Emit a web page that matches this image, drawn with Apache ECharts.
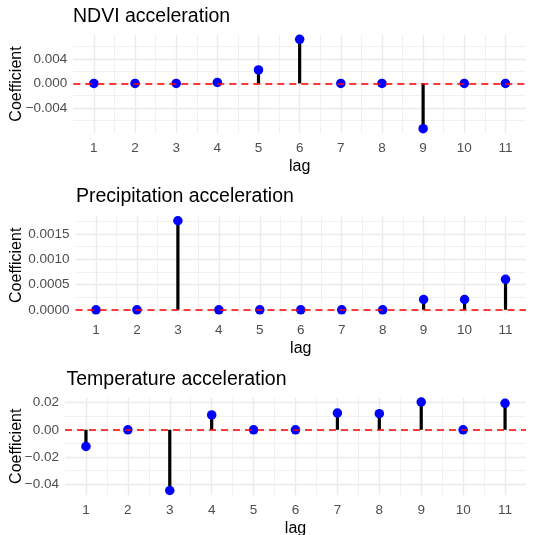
<!DOCTYPE html>
<html>
<head>
<meta charset="utf-8">
<script src="https://cdn.jsdelivr.net/npm/echarts@6/dist/echarts.min.js"></script>
<style>html,body{margin:0;padding:0;background:#fff}#c{width:533px;height:535px}</style>
</head>
<body>
<div id="c"></div>
<script>
const lags = [1, 2, 3, 4, 5, 6, 7, 8, 9, 10, 11];
const lagMinor = [1.5, 2.5, 3.5, 4.5, 5.5, 6.5, 7.5, 8.5, 9.5, 10.5];
const titles = ['NDVI acceleration', 'Precipitation acceleration', 'Temperature acceleration'];
const ndvi = [0, 0, 0, 0.00016, 0.0022, 0.0072, 0, 0, -0.0074, 0, 0];
const precip = [0, 0, 0.001765, 0, 0, 0, 0, 0, 0.000205, 0.000205, 0.000604];
const temp = [-0.0122, 0, -0.0446, 0.011, 0, 0, 0.0124, 0.0119, 0.0205, 0, 0.0195];
const ndviTicks = [-0.004, 0, 0.004];
const ndviMinor = [-0.006, -0.002, 0.002, 0.006];
const precipTicks = [0, 0.0005, 0.001, 0.0015];
const precipMinor = [0.00025, 0.00075, 0.00125, 0.00175];
const tempTicks = [-0.04, -0.02, 0, 0.02];
const tempMinor = [-0.03, -0.01, 0.01];

const FONT = 'Liberation Sans, Arial, sans-serif';
const panels = [
  {data: ndvi, ticks: ndviTicks, minor: ndviMinor, dec: 3, min: -0.0081, max: 0.0079,
   grid: {left: 73.3, top: 35, width: 452.7, height: 98}, nameGap: 48.3, titleLeft: 73, titleTop: 6.5},
  {data: precip, ticks: precipTicks, minor: precipMinor, dec: 4, min: -0.0000883, max: 0.001853,
   grid: {left: 75.5, top: 216.3, width: 450.5, height: 98}, nameGap: 50.5, titleLeft: 76, titleTop: 187},
  {data: temp, ticks: tempTicks, minor: tempMinor, dec: 2, min: -0.0479, max: 0.0238,
   grid: {left: 65, top: 397.5, width: 461, height: 97.5}, nameGap: 40, titleLeft: 66.5, titleTop: 369.5}
];

const fmt = (dec) => (v) => {
  const s = Math.abs(v).toFixed(dec);
  return (v < -1e-12 ? '\u2212' : '') + s;
};

const option = {animation: false, title: [], grid: [], xAxis: [], yAxis: [], series: []};
panels.forEach((p, i) => {
  option.title.push({text: titles[i], left: p.titleLeft, top: p.titleTop, padding: 0,
    textStyle: {fontFamily: FONT, fontSize: 19.5, fontWeight: 'normal', color: '#000'}});
  option.grid.push(Object.assign({containLabel: false, outerBoundsMode: 'none'}, p.grid));
  const gl = {lineStyle: {color: '#EBEBEB', width: 1.4}};
  const glm = {lineStyle: {color: '#EBEBEB', width: 0.7}};
  option.xAxis.push({type: 'value', gridIndex: i, min: 0.5, max: 11.5,
    axisLine: {show: false}, axisTick: {show: false, customValues: lags},
    axisLabel: {customValues: lags, color: '#4D4D4D', fontFamily: FONT, fontSize: 13.5, margin: 8.5},
    splitLine: Object.assign({show: true}, gl),
    name: 'lag', nameLocation: 'middle', nameGap: 26,
    nameTextStyle: {fontFamily: FONT, fontSize: 16, color: '#000'}});
  option.xAxis.push({type: 'value', gridIndex: i, min: 0.5, max: 11.5,
    axisLine: {show: false}, axisTick: {show: false, customValues: lagMinor},
    axisLabel: {show: false}, splitLine: Object.assign({show: true}, glm)});
  option.yAxis.push({type: 'value', gridIndex: i, min: p.min, max: p.max,
    axisLine: {show: false}, axisTick: {show: false, customValues: p.ticks},
    axisLabel: {customValues: p.ticks, formatter: fmt(p.dec), color: '#4D4D4D', fontFamily: FONT, fontSize: 13.5, margin: 6},
    splitLine: Object.assign({show: true}, gl),
    name: 'Coefficient', nameLocation: 'middle', nameGap: p.nameGap, nameRotate: 90,
    nameMoveOverlap: false,
    nameTextStyle: {fontFamily: FONT, fontSize: 16, color: '#000'}});
  option.yAxis.push({type: 'value', gridIndex: i, min: p.min, max: p.max,
    axisLine: {show: false}, axisTick: {show: false, customValues: p.minor},
    axisLabel: {show: false}, splitLine: Object.assign({show: true}, glm)});
  const pts = lags.map((l, k) => [l, p.data[k]]);
  option.series.push({type: 'custom', xAxisIndex: 2 * i, yAxisIndex: 2 * i, data: pts,
    z: 2, silent: true, clip: true,
    renderItem: function (params, api) {
      const a = api.coord([api.value(0), 0]);
      const b = api.coord([api.value(0), api.value(1)]);
      return {type: 'line', shape: {x1: a[0], y1: a[1], x2: b[0], y2: b[1]},
        style: {stroke: '#000', lineWidth: 3.2}};
    },
    markLine: {silent: true, symbol: ['none', 'none'], label: {show: false},
      lineStyle: {color: '#FF0000', type: [7, 5], width: 1.6}, data: [{yAxis: 0}]}});
  option.series.push({type: 'scatter', xAxisIndex: 2 * i, yAxisIndex: 2 * i, data: pts,
    symbolSize: 9.5, itemStyle: {color: '#0000FF', opacity: 1}, z: 4, silent: true});
});

const chart = echarts.init(document.getElementById('c'), null, {renderer: 'canvas'});
chart.setOption(option);
</script>
</body>
</html>
